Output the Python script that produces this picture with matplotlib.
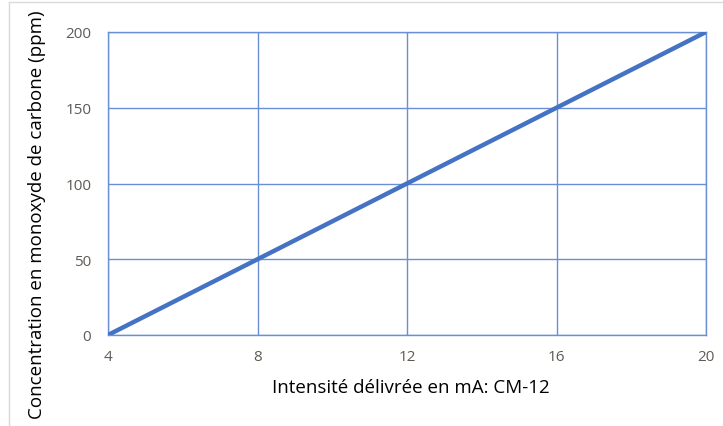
import matplotlib
matplotlib.use("Agg")
import matplotlib.pyplot as plt
from matplotlib.lines import Line2D

# Sensor transfer line: 4-20 mA maps to 0-200 ppm CO
intensite_ma = [4, 20]
concentration_ppm = [0, 200]
x_ticks = [4, 8, 12, 16, 20]
y_ticks = [0, 50, 100, 150, 200]

blue = "#4472C4"
grid_blue = "#6A8FD4"
W, H = 723, 427

fig = plt.figure(figsize=(W / 100, H / 100), dpi=100)
ax = fig.add_axes([108 / W, 1 - 336 / H, (706 - 108) / W, (336 - 33) / H])

ax.plot(intensite_ma, concentration_ppm, color=blue, linewidth=3.2,
        solid_capstyle="butt", zorder=3)

ax.set_xlim(4, 20)
ax.set_ylim(0, 200)
ax.set_xticks(x_ticks)
ax.set_yticks(y_ticks)
ax.grid(True, color=grid_blue, linewidth=1.0)
for s in ax.spines.values():
    s.set_color(grid_blue)
    s.set_linewidth(1.0)
ax.tick_params(length=0, labelsize=11, labelcolor="#5f5a55")
ax.tick_params(axis="x", pad=10)
ax.tick_params(axis="y", pad=12)
for lbl in ax.get_xticklabels() + ax.get_yticklabels():
    lbl.set_fontfamily("Open Sans")

fig.text(411 / W, 1 - 388 / H, "Intensité délivrée en mA: CM-12",
         ha="center", va="center", fontsize=13.5, fontfamily="Open Sans")
fig.text(37 / W, 1 - 215 / H, "Concentration en monoxyde de carbone (ppm)",
         rotation=90, ha="center", va="center", fontsize=13.5,
         fontfamily="Open Sans")

# light frame along the top and left of the chart
frame = dict(color="#D9D9D9", linewidth=1.0, transform=fig.transFigure)
fig.lines.append(Line2D([8.5 / W, 1], [1 - 3 / H, 1 - 3 / H], **frame))
fig.lines.append(Line2D([8.5 / W, 8.5 / W], [0, 1 - 3 / H], **frame))

fig.savefig("out.png", dpi=100)
